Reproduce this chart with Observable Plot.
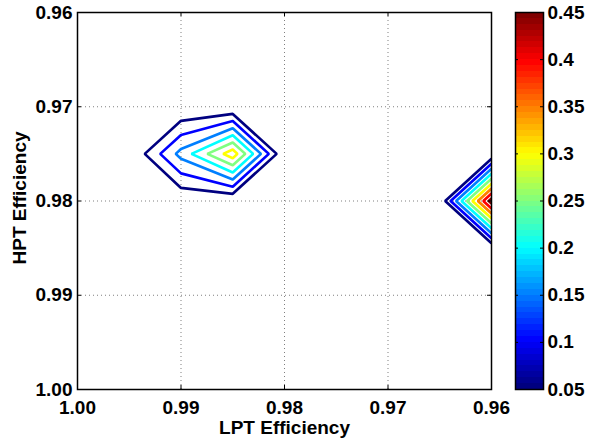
<!DOCTYPE html>
<html>
<head>
<meta charset="utf-8">
<script src="https://cdn.jsdelivr.net/npm/d3@7"></script>
<script src="https://cdn.jsdelivr.net/npm/@observablehq/plot@0.6"></script>
<style>
  html, body { margin: 0; padding: 0; background: #fff; }
  #chart { position: relative; width: 596px; height: 442px; }
  #chart svg { position: absolute; top: 0; }
</style>
</head>
<body>
<div id="chart"></div>
<script>
// Grid columns (LPT efficiency) and rows (HPT efficiency)
const lptEff = [0.96, 0.965, 0.97, 0.975, 0.98, 0.985, 0.99, 0.995, 1.00];
const hptEff = [0.96, 0.965, 0.97, 0.975, 0.98, 0.985, 0.99, 0.995, 1.00];
// Values on the grid: one row per HPT efficiency, one column per LPT efficiency
const gridValues = [
  [0,     0, 0, 0, 0, 0,    0,     0, 0],
  [0,     0, 0, 0, 0, 0,    0,     0, 0],
  [0,     0, 0, 0, 0, 0,    0,     0, 0],
  [0,     0, 0, 0, 0, 0.33, 0.167, 0, 0],
  [0.475, 0, 0, 0, 0, 0,    0.005, 0, 0],
  [0,     0, 0, 0, 0, 0,    0,     0, 0],
  [0,     0, 0, 0, 0, 0,    0,     0, 0],
  [0,     0, 0, 0, 0, 0,    0,     0, 0],
  [0,     0, 0, 0, 0, 0,    0,     0, 0]
];
const levels = [0.05, 0.1, 0.15, 0.2, 0.25, 0.3, 0.35, 0.4, 0.45];
const xTicks = [1.00, 0.99, 0.98, 0.97, 0.96];
const yTicks = [0.96, 0.97, 0.98, 0.99, 1.00];
const cbTicks = [0.05, 0.1, 0.15, 0.2, 0.25, 0.3, 0.35, 0.4, 0.45];
const cbTickLabels = ["0.05", "0.1", "0.15", "0.2", "0.25", "0.3", "0.35", "0.4", "0.45"];

const font = "'Liberation Sans', Arial, Helvetica, sans-serif";
const fs = 19;
const clamp = v => Math.max(0, Math.min(1, v));
function jet(t) {
  const r = clamp(Math.min(4 * t - 1.5, -4 * t + 4.5));
  const g = clamp(Math.min(4 * t - 0.5, -4 * t + 3.5));
  const b = clamp(Math.min(4 * t + 0.5, -4 * t + 2.5));
  return d3.rgb(r * 255, g * 255, b * 255).formatHex();
}

const W = 596, H = 442;
const mL = 77, mR = 105, mT = 12, mB = 53;
const plotH = H - mT - mB;
const plotW = W - mL - mR;
const tickLen = 4;
const flat = gridValues.flat();
const dx = (lptEff[1] - lptEff[0]) / 2, dy = (hptEff[1] - hptEff[0]) / 2;
const txt = { fontSize: fs, fontWeight: "bold", fill: "#000", lineAnchor: "middle" };

const main = Plot.plot({
  width: W, height: H,
  marginLeft: mL, marginRight: mR, marginTop: mT, marginBottom: mB,
  style: { background: "transparent", fontFamily: font },
  x: { domain: [0.96, 1.00], reverse: true, axis: null },
  y: { domain: [0.96, 1.00], reverse: true, axis: null },
  color: { type: "linear", domain: [levels[0], levels[levels.length - 1]], interpolate: jet },
  marks: [
    Plot.ruleX(xTicks, { x: d => d, stroke: "#000", strokeOpacity: 0.5, strokeDasharray: "1,3" }),
    Plot.ruleY(yTicks, { y: d => d, stroke: "#000", strokeOpacity: 0.5, strokeDasharray: "1,3" }),
    Plot.contour(flat, {
      width: lptEff.length, height: hptEff.length,
      x1: lptEff[0] - dx, x2: lptEff[lptEff.length - 1] + dx,
      y1: hptEff[0] - dy, y2: hptEff[hptEff.length - 1] + dy,
      thresholds: levels,
      stroke: Plot.identity, fill: "none", strokeWidth: 2.7, clip: true
    }),
    // inward ticks
    Plot.ruleX(xTicks, { x: d => d, insetTop: plotH - tickLen, stroke: "#000" }),
    Plot.ruleX(xTicks, { x: d => d, insetBottom: plotH - tickLen, stroke: "#000" }),
    Plot.ruleY(yTicks, { y: d => d, insetRight: plotW - tickLen, stroke: "#000" }),
    Plot.ruleY(yTicks, { y: d => d, insetLeft: plotW - tickLen, stroke: "#000" }),
    Plot.frame({ stroke: "#000", strokeWidth: 1.5 }),
    Plot.text(xTicks, { x: d => d, frameAnchor: "bottom", dy: 18, textAnchor: "middle",
      text: d => d.toFixed(2), ...txt }),
    Plot.text(yTicks, { y: d => d, frameAnchor: "left", textAnchor: "end", dx: -5,
      text: d => d.toFixed(2), ...txt }),
    Plot.text(["LPT Efficiency"], { frameAnchor: "bottom", dy: 38, textAnchor: "middle",
      text: d => d, ...txt }),
    Plot.text(["HPT Efficiency"], { frameAnchor: "left", dx: -58, dy: -3, rotate: -90, textAnchor: "middle",
      text: d => d, ...txt })
  ]
});
main.style.left = "0px";

// Colorbar (64-colour jet map)
const nBands = 64;
const cbMin = 0.05, cbMax = 0.45;
const bands = d3.range(nBands).map(i => ({
  lo: cbMin + (cbMax - cbMin) * i / nBands,
  hi: cbMin + (cbMax - cbMin) * (i + 1) / nBands,
  color: jet(i / (nBands - 1))
}));
const cbLeft = 500;
const cbW = W - cbLeft;
const cbML = 15, cbMR = 53;
const cbInner = cbW - cbML - cbMR;
const cb = Plot.plot({
  width: cbW, height: H,
  marginLeft: cbML, marginRight: cbMR, marginTop: mT, marginBottom: mB,
  style: { background: "transparent", fontFamily: font },
  x: { domain: [0, 1], axis: null },
  y: { domain: [cbMin, cbMax], axis: null },
  marks: [
    Plot.rect(bands, { x1: 0, x2: 1, y1: "lo", y2: "hi", fill: "color", shapeRendering: "crispEdges" }),
    Plot.ruleY(cbTicks, { y: d => d, insetRight: cbInner - 3, stroke: "#000" }),
    Plot.ruleY(cbTicks, { y: d => d, insetLeft: cbInner - 3, stroke: "#000" }),
    Plot.frame({ stroke: "#000", strokeWidth: 1.5 }),
    Plot.text(cbTicks, { y: d => d, frameAnchor: "right", textAnchor: "start", dx: 4,
      text: (d, i) => cbTickLabels[i], ...txt })
  ]
});
cb.style.left = cbLeft + "px";

const chart = document.getElementById("chart");
chart.appendChild(main);
chart.appendChild(cb);
</script>
</body>
</html>
